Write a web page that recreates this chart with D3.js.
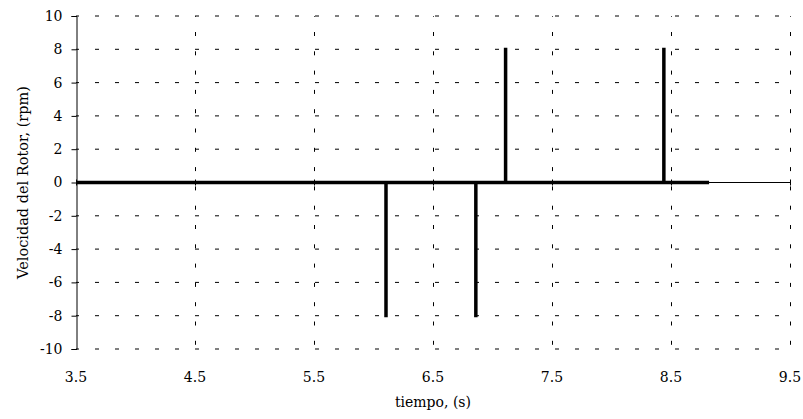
<!DOCTYPE html>
<html>
<head>
<meta charset="utf-8">
<script src="https://cdn.jsdelivr.net/npm/d3@7"></script>
<style>
  body { margin: 0; background: #fff; }
</style>
</head>
<body>
<svg id="chart" width="803" height="419"></svg>
<script>
// data
const tiempo = [3.5, 6.105, 6.105, 6.105, 6.86, 6.86, 6.86, 7.11, 7.11, 7.11, 8.44, 8.44, 8.44, 8.82];
const velocidad = [0, 0, -8.1, 0, 0, -8.1, 0, 0, 8.1, 0, 0, 8.1, 0, 0];
const xTicks = [3.5, 4.5, 5.5, 6.5, 7.5, 8.5, 9.5];
const yTicks = [-10, -8, -6, -4, -2, 0, 2, 4, 6, 8, 10];

const FONT = "DejaVu Serif";
const svg = d3.select("#chart");
const plotLeft = 76, plotRight = 790, plotTop = 16, plotBottom = 349;

const x = d3.scaleLinear().domain([3.5, 9.5]).range([plotLeft, plotRight]);
const y = d3.scaleLinear().domain([-10, 10]).range([plotBottom, plotTop]);

// grid - horizontal
svg.append("g")
    .selectAll("line")
    .data(yTicks.filter(d => d != 0))
    .enter()
    .append("line")
    .attr("x1", plotLeft).attr("x2", plotRight)
    .attr("y1", d => y(d)).attr("y2", d => y(d))
    .attr("stroke", "#000")
    .attr("stroke-width", 1)
    .attr("stroke-dasharray", "4,16")
    .attr("stroke-dashoffset", -19);

// grid - vertical
svg.append("g")
    .selectAll("line")
    .data(xTicks.filter(d => d != 3.5))
    .enter()
    .append("line")
    .attr("x1", d => Math.round(x(d)) + 0.5).attr("x2", d => Math.round(x(d)) + 0.5)
    .attr("y1", plotTop).attr("y2", plotBottom)
    .attr("stroke", "#000")
    .attr("stroke-width", 1)
    .attr("stroke-dasharray", "4,15.3")
    .attr("stroke-dashoffset", -16);

// y axis
const yAxis = d3.axisLeft(y).tickValues(yTicks).tickSize(5).tickPadding(9).tickFormat(d => String(d));
const gy = svg.append("g")
    .attr("transform", "translate(" + (plotLeft + 0.5) + ",0)")
    .call(yAxis);
gy.attr("font-family", FONT).attr("font-size", 14);
gy.select(".domain").attr("stroke", "#000");
gy.selectAll("text").attr("fill", "#000");

// x axis line at zero with crossing ticks
const y0 = y(0);
svg.append("line")
    .attr("x1", plotLeft).attr("x2", plotRight)
    .attr("y1", y0).attr("y2", y0)
    .attr("stroke", "#000").attr("stroke-width", 1);
svg.append("g")
    .selectAll("line")
    .data(xTicks)
    .enter()
    .append("line")
    .attr("x1", d => Math.round(x(d)) + 0.5).attr("x2", d => Math.round(x(d)) + 0.5)
    .attr("y1", y0 - 3).attr("y2", y0 + 3)
    .attr("stroke", "#000");

// x tick labels (at bottom)
svg.append("g")
    .selectAll("text")
    .data(xTicks)
    .enter()
    .append("text")
    .attr("x", d => x(d))
    .attr("y", 382)
    .attr("text-anchor", "middle")
    .attr("font-family", FONT)
    .attr("font-size", 14)
    .text(d => d3.format(".1f")(d));

// series
const pts = tiempo.map((t, i) => [t, velocidad[i]]);
svg.append("path")
    .datum(pts)
    .attr("fill", "none")
    .attr("stroke", "#000")
    .attr("stroke-width", 3.5)
    .attr("stroke-linejoin", "bevel")
    .attr("d", d3.line().x(d => x(d[0])).y(d => y(d[1])));

// titles
svg.append("text")
    .attr("x", (plotLeft + plotRight) / 2)
    .attr("y", 407)
    .attr("text-anchor", "middle")
    .attr("font-family", FONT)
    .attr("font-size", 14)
    .text("tiempo, (s)");

svg.append("text")
    .attr("transform", "translate(28," + ((plotTop + plotBottom) / 2) + ") rotate(-90)")
    .attr("text-anchor", "middle")
    .attr("font-family", FONT)
    .attr("font-size", 14.5)
    .text("Velocidad del Rotor, (rpm)");
</script>
</body>
</html>
